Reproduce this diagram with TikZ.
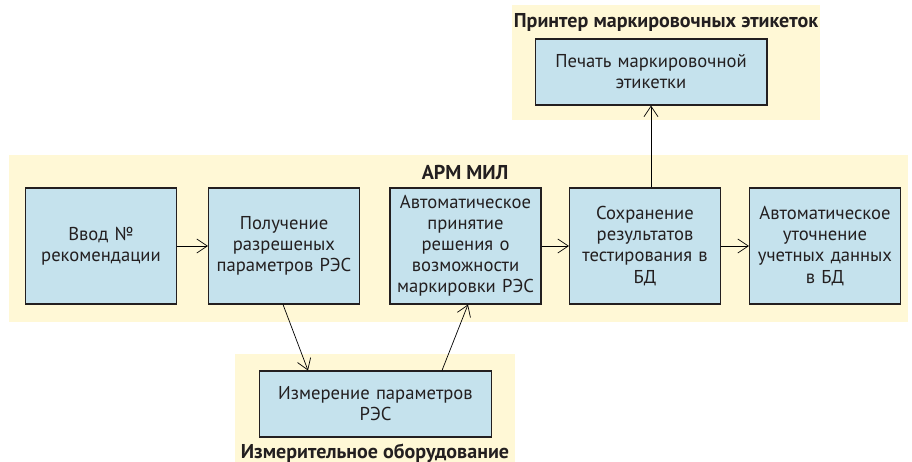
\documentclass[tikz,border=0pt]{standalone}
\usepackage{fontspec}
\setmainfont{PT Sans}
\usepackage{tikz}
\usetikzlibrary{arrows.meta}

\definecolor{panelyellow}{RGB}{255,248,214}
\definecolor{boxblue}{RGB}{197,226,237}
\definecolor{textgray}{RGB}{35,31,32}

\begin{document}
\begin{tikzpicture}[x=0.02cm,y=-0.02cm,->,>={Straight Barb[length=6pt,width=8pt]},
    thin,
    every node/.style={text=textgray,font=\fontsize{10.6}{12}\selectfont},
    stage/.style={draw=textgray,semithick,fill=boxblue,rectangle,align=center,
      minimum width=3cm,minimum height=2.32cm,text width=2.95cm,inner sep=1pt},
    widestage/.style={stage,minimum width=4.64cm,minimum height=1.32cm,text width=4.5cm},
    paneltitle/.style={font=\fontsize{11.4}{13}\selectfont\bfseries}]
        \useasboundingbox (0,0) rectangle (912,462);
        % panels
        \fill[panelyellow] (9,155) rectangle (908,322);
        \fill[panelyellow] (512,5) rectangle (820,120);
        \fill[panelyellow] (235,354) rectangle (515,462);
        \node[paneltitle] (arm) at (465,172) {АРМ МИЛ};
        \node[paneltitle] (printer) at (666,22) {Принтер маркировочных этикеток};
        \node[paneltitle] (equip) at (375,453) {Измерительное оборудование};

        \node[stage] (input) at (101,246) {Ввод №\\рекомендации};
        \node[stage] (params) at (284,246) {Получение\\разрешеных\\параметров РЭС};
        \node[stage] (decide) at (465.5,246) {Автоматическое\\принятие\\решения о\\возможности\\маркировки РЭС};
        \node[stage] (save) at (645,246) {Сохранение\\результатов\\тестирования в\\БД};
        \node[stage] (update) at (825,246) {Автоматическое\\уточнение\\учетных данных\\в БД};
        \node[widestage] (print) at (651,72) {Печать маркировочной\\этикетки};
        \node[widestage] (measure) at (375.5,404) {Измерение параметров\\РЭС};

        \draw (input) -- (params);
        \draw (decide) -- (save);
        \draw (save) -- (update);
        \draw (print.south |- save.north) -- (print.south);
        \draw ([xshift=-0.02cm]params.south) -- ([xshift=-1.35cm]measure.north);
        \draw ([xshift=1.33cm]measure.north) -- ([xshift=0.05cm]decide.south);
\end{tikzpicture}
\end{document}
